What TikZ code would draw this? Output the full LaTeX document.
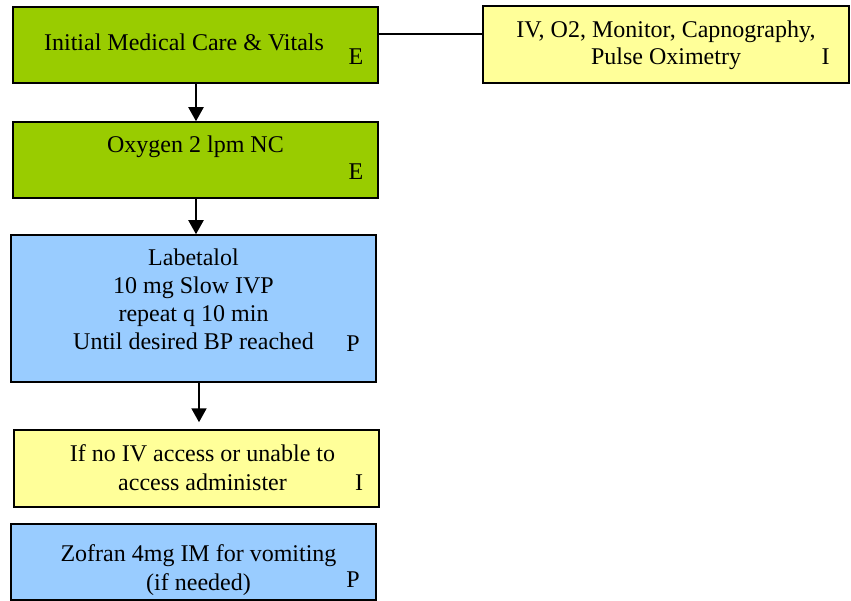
\documentclass[tikz,border=0pt]{standalone}
\usepackage{fontspec}
\setmainfont{Liberation Serif}
\usetikzlibrary{arrows.meta}
\definecolor{stepgreen}{HTML}{99CC00}
\definecolor{stepblue}{HTML}{99CCFF}
\definecolor{stepyellow}{HTML}{FFFF99}
\begin{document}
\begin{tikzpicture}[x=1pt,y=-1pt,
  box/.style={draw=black, line width=1.5pt, rectangle, minimum width=365pt, inner sep=0pt},
  txt/.style={anchor=base, inner sep=0pt, font=\fontsize{24}{27.6}\selectfont},
  flow/.style={-{Triangle[length=14pt,width=15pt]}, line width=2pt},
  link/.style={line width=1.2pt}]
\useasboundingbox (0,0) rectangle (851,601);
\fill[white] (0,0) rectangle (851,601);

% boxes
\node[box, fill=stepgreen, minimum height=76pt] (care) at (195.5,45) {};
\node[box, fill=stepgreen, minimum height=76pt] (oxy) at (195.5,160) {};
\node[box, fill=stepblue, minimum height=147pt] (labe) at (193.5,308.5) {};
\node[box, fill=stepyellow, minimum height=77pt] (noiv) at (196.5,468.5) {};
\node[box, fill=stepblue, minimum height=76pt] (zofran) at (193.5,562) {};
\node[box, fill=stepyellow, minimum height=77pt, minimum width=366pt] (monitor) at (666,44.5) {};

% connectors
\draw[link] (care.east |- 0,34) -- (monitor.west |- 0,34);
\draw[flow] (care.south -| 196,0) -- (oxy.north -| 196,0);
\draw[flow] (oxy.south -| 196,0) -- (labe.north -| 196,0);
\draw[flow, shorten >=7pt] (labe.south -| 199,0) -- (noiv.north -| 199,0);

% texts
\node[txt] (careA) at (184,51) {Initial Medical Care \& Vitals};
\node[txt] (careT) at (356,65) {E};

\node[txt] (oxyA) at (195.5,153) {Oxygen 2 lpm NC};
\node[txt] (oxyT) at (356,180) {E};

\node[txt] (monA) at (666,38) {IV, O2, Monitor, Capnography,};
\node[txt] (monB) at (666,65) {Pulse Oximetry};
\node[txt] (monT) at (825.5,65) {I};

\node[txt] (labA) at (193.5,266) {Labetalol};
\node[txt] (labB) at (193.5,294) {10 mg Slow IVP};
\node[txt] (labC) at (193.5,321.5) {repeat q 10 min};
\node[txt] (labD) at (193.5,349) {Until desired BP reached};
\node[txt] (labT) at (353,352) {P};

\node[txt] (noivA) at (202.5,461.5) {If no IV access or unable to};
\node[txt] (noivB) at (202.5,490) {access administer};
\node[txt] (noivT) at (359,490) {I};

\node[txt] (zofA) at (198.5,561.5) {Zofran 4mg IM for vomiting};
\node[txt] (zofB) at (198.5,590) {(if needed)};
\node[txt] (zofT) at (353,587) {P};
\end{tikzpicture}
\end{document}
